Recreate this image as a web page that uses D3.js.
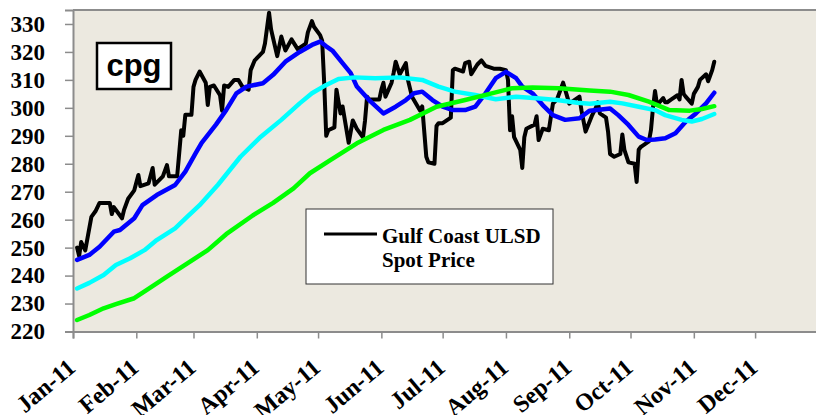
<!DOCTYPE html>
<html>
<head>
<meta charset="utf-8">
<script src="https://cdn.jsdelivr.net/npm/d3@7"></script>
<style>
  html, body { margin: 0; padding: 0; background: #fff; }
  svg { display: block; }
</style>
</head>
<body>
<svg id="chart" width="816" height="415"></svg>
<script>
// Gulf Coast ULSD spot price (cents/gal) and its moving averages, 2011

var priceDates = [
  '2011-01-03','2011-01-04','2011-01-05','2011-01-07','2011-01-10','2011-01-12','2011-01-14','2011-01-19',
  '2011-01-20','2011-01-21','2011-01-25','2011-01-26','2011-01-28','2011-01-31','2011-02-02','2011-02-03',
  '2011-02-07','2011-02-09','2011-02-10','2011-02-14','2011-02-16','2011-02-17','2011-02-21','2011-02-23',
  '2011-02-24','2011-02-25','2011-02-28','2011-03-01','2011-03-02','2011-03-04','2011-03-07','2011-03-08',
  '2011-03-09','2011-03-11','2011-03-14','2011-03-15','2011-03-16','2011-03-18','2011-03-21','2011-03-23',
  '2011-03-25','2011-03-28','2011-03-29','2011-03-31','2011-04-04','2011-04-05','2011-04-07','2011-04-08',
  '2011-04-11','2011-04-13','2011-04-15','2011-04-18','2011-04-21','2011-04-25','2011-04-26','2011-04-28',
  '2011-04-29','2011-05-02','2011-05-03','2011-05-04','2011-05-05','2011-05-06','2011-05-09','2011-05-10',
  '2011-05-12','2011-05-13','2011-05-16','2011-05-18','2011-05-20','2011-05-23','2011-05-24','2011-05-25',
  '2011-05-26','2011-05-31','2011-06-01','2011-06-02','2011-06-03','2011-06-06','2011-06-07','2011-06-08',
  '2011-06-10','2011-06-13','2011-06-14','2011-06-16','2011-06-20','2011-06-21','2011-06-23','2011-06-24',
  '2011-06-27','2011-06-28','2011-06-29','2011-07-01','2011-07-05','2011-07-06','2011-07-07','2011-07-11',
  '2011-07-12','2011-07-14','2011-07-15','2011-07-18','2011-07-20','2011-07-22','2011-07-26','2011-07-29',
  '2011-08-01','2011-08-02','2011-08-03','2011-08-04','2011-08-05','2011-08-08','2011-08-09','2011-08-10',
  '2011-08-11','2011-08-15','2011-08-16','2011-08-17','2011-08-19','2011-08-22','2011-08-24','2011-08-26',
  '2011-08-29','2011-08-30','2011-09-01','2011-09-06','2011-09-07','2011-09-09','2011-09-12','2011-09-14',
  '2011-09-15','2011-09-16','2011-09-19','2011-09-20','2011-09-21','2011-09-23','2011-09-26','2011-09-27',
  '2011-09-28','2011-09-30','2011-10-03','2011-10-04','2011-10-05','2011-10-06','2011-10-07','2011-10-10',
  '2011-10-11','2011-10-12','2011-10-13','2011-10-14','2011-10-17','2011-10-18','2011-10-19','2011-10-21',
  '2011-10-24','2011-10-25','2011-10-26','2011-10-27','2011-10-28','2011-10-31','2011-11-01','2011-11-03',
  '2011-11-04','2011-11-07','2011-11-08','2011-11-10','2011-11-11'
];
var priceValues = [
  250, 247, 252, 249, 261, 263, 266, 266,
  262, 264.5, 260.5, 263.5, 267.5, 270.5, 276, 272,
  273, 278.5, 272.5, 275.5, 279.5, 275.5, 275.5, 292,
  290, 297.5, 297.5, 307.5, 310, 313, 309, 301,
  307.5, 308, 304.5, 299, 308, 307.5, 310, 310,
  307.5, 306.5, 313.5, 317, 320, 323, 334, 328,
  318.5, 325.5, 320.5, 324.5, 321, 323, 327, 331,
  329, 326, 324, 309, 290, 292, 293, 306.5,
  298, 300.5, 287.5, 295.5, 292.5, 289.5, 295.5, 304,
  303, 303, 306.5, 309, 304, 309, 312.5, 316.5,
  312, 316, 310, 304, 299, 300.5, 282.5, 280.5,
  280, 293.5, 294.5, 294.5, 296.5, 313.5, 314, 313,
  316, 316.5, 312, 315.5, 317, 315, 314, 314,
  313.5, 310, 292, 297, 289.5, 285, 278.5, 289.5,
  292.5, 294, 297, 288.5, 292.5, 292, 301.5, 303,
  309, 306.5, 301.5, 304, 299, 291.5, 297, 300,
  302, 298, 296.5, 291.5, 283.5, 282.5, 283.5, 290.5,
  285, 280.5, 280, 273.5, 285, 286, 286.5, 288,
  292, 300, 306, 301, 303.5, 302, 302, 303,
  304.5, 303, 310, 305, 304, 301.5, 305, 307.5,
  310, 312, 309.5, 313.5, 316.5
];

// short moving average (blue)
var maShortDates = [
  '2011-01-03','2011-01-09','2011-01-14','2011-01-21','2011-01-24','2011-01-31','2011-02-04','2011-02-11',
  '2011-02-20','2011-02-25','2011-03-02','2011-03-05','2011-03-12','2011-03-17','2011-03-22','2011-03-27',
  '2011-04-04','2011-04-09','2011-04-15','2011-04-22','2011-04-28','2011-05-02','2011-05-05','2011-05-08',
  '2011-05-13','2011-05-17','2011-05-20','2011-05-26','2011-06-02','2011-06-08','2011-06-13','2011-06-17',
  '2011-06-21','2011-06-26','2011-07-01','2011-07-06','2011-07-12','2011-07-17','2011-07-22','2011-07-27',
  '2011-08-01','2011-08-06','2011-08-09','2011-08-14','2011-08-19','2011-08-24','2011-08-30','2011-09-06',
  '2011-09-11','2011-09-21','2011-09-25','2011-09-30','2011-10-05','2011-10-09','2011-10-13','2011-10-18',
  '2011-10-23','2011-10-28','2011-11-02','2011-11-07','2011-11-11'
];
var maShortValues = [
  245.6, 247.4, 250.3, 255.7, 256.3, 260.5, 265.2, 268.8,
  272.4, 277.2, 283.7, 287.5, 294, 299.2, 305.2, 307.6,
  308.8, 311.8, 316.5, 320, 322.5, 323.7, 322, 320.5,
  316, 312.4, 307.6, 302.8, 298, 300.4, 302.8, 305.2,
  305.8, 302.8, 300.4, 299.2, 299.2, 300.4, 305.2, 310.6,
  312.9, 310.6, 307.6, 305.2, 301, 297.4, 295.7, 296.3,
  299, 299.8, 297.4, 293.9, 289.7, 288.5, 288.7, 289.1,
  290.9, 295, 298, 301.6, 305.4
];

// medium moving average (cyan)
var maMidDates = [
  '2011-01-03','2011-01-09','2011-01-16','2011-01-22','2011-01-29','2011-02-05','2011-02-11','2011-02-20',
  '2011-02-26','2011-03-04','2011-03-13','2011-03-24','2011-04-03','2011-04-13','2011-04-22','2011-04-28',
  '2011-05-05','2011-05-11','2011-05-19','2011-05-29','2011-06-10','2011-06-21','2011-06-29','2011-07-07',
  '2011-07-17','2011-07-27','2011-08-06','2011-08-16','2011-08-26','2011-09-05','2011-09-11','2011-09-21',
  '2011-09-27','2011-10-05','2011-10-13','2011-10-18','2011-10-26','2011-10-31','2011-11-05','2011-11-11'
];
var maMidValues = [
  235.4, 237.4, 240.2, 243.8, 246.2, 249.1, 252.7, 256.9,
  261.1, 265.2, 272.5, 282.5, 289.7, 295.7, 301.6, 305.2,
  308.2, 310.3, 310.9, 310.6, 310.9, 310, 307.6, 305.8,
  304.6, 303.1, 304, 303.4, 302.8, 301.8, 301.5, 302.2,
  301.6, 300.4, 299.2, 297.4, 295.7, 295.1, 296, 297.8
];

// long moving average (green)
var maLongDates = [
  '2011-01-03','2011-01-09','2011-01-16','2011-01-22','2011-01-31','2011-02-06','2011-02-16','2011-02-26',
  '2011-03-08','2011-03-17','2011-03-30','2011-04-09','2011-04-19','2011-04-27','2011-05-07','2011-05-20',
  '2011-06-02','2011-06-15','2011-06-28','2011-07-12','2011-07-25','2011-08-04','2011-08-14','2011-08-27',
  '2011-09-11','2011-09-21','2011-09-30','2011-10-10','2011-10-20','2011-10-30','2011-11-05','2011-11-11'
];
var maLongValues = [
  224.1, 225.9, 228.3, 229.8, 231.9, 234.8, 239.6, 244.4,
  249.1, 254.8, 261.5, 266, 271.2, 276.6, 281.3, 287.3,
  292.1, 295.7, 300.4, 302.8, 305.2, 307, 307.3, 307,
  306.2, 305.8, 304.6, 302.2, 299.2, 299, 299.6, 300.6
];

var yTicks = [220, 230, 240, 250, 260, 270, 280, 290, 300, 310, 320, 330];
var monthLabels = ['Jan-11','Feb-11','Mar-11','Apr-11','May-11','Jun-11',
                   'Jul-11','Aug-11','Sep-11','Oct-11','Nov-11','Dec-11'];
var boxLabel = 'cpg';
var legendLines = ['Gulf Coast ULSD', 'Spot Price'];

(function(d3) {
    'use strict';

    var parse = d3.timeParse('%Y-%m-%d');
    var svg = d3.select('#chart');

    var left = 73, top = 10, right = 818.4, bottom = 331.5;

    var x = d3.scaleTime()
        .domain([new Date(2011, 0, 1), new Date(2012, 0, 1)])
        .range([left, right]);
    var y = d3.scaleLinear()
        .domain([220, 335])
        .range([bottom, top]);

    var axisColor = '#8c8c8c';
    var serif = '"Liberation Serif", "Times New Roman", serif';

    // plot background
    svg.append('rect')
        .attr('x', left).attr('y', top)
        .attr('width', right - left).attr('height', bottom - top)
        .attr('fill', '#ece9e0');

    svg.append('line')
        .attr('x1', left).attr('x2', right)
        .attr('y1', top).attr('y2', top)
        .attr('stroke', axisColor).attr('stroke-width', 2);

    // y axis
    var yAxis = svg.append('g')
        .attr('transform', 'translate(' + left + ',0)')
        .call(d3.axisLeft(y).tickValues(yTicks).tickSize(8).tickPadding(20).tickFormat(d3.format('d')));
    yAxis.select('.domain').attr('stroke', axisColor).attr('stroke-width', 2);
    yAxis.selectAll('.tick line').attr('stroke', axisColor).attr('stroke-width', 1.5);
    yAxis.selectAll('.tick text')
        .attr('fill', '#000')
        .style('font-family', serif)
        .style('font-weight', 'bold')
        .style('font-size', '23px');

    // x axis
    var months = monthLabels.map(function(d, i) { return new Date(2011, i, 1); });
    var xAxis = svg.append('g')
        .attr('transform', 'translate(0,' + bottom + ')')
        .call(d3.axisBottom(x).tickValues(months).tickSize(7).tickFormat(''));
    xAxis.select('.domain').attr('stroke', axisColor).attr('stroke-width', 2);
    xAxis.selectAll('.tick line').attr('stroke', axisColor).attr('stroke-width', 1.5);

    // rotated month labels; the lowest ones run past the bottom edge as in the original
    svg.append('g')
        .selectAll('text')
        .data(months)
        .enter()
        .append('text')
        .attr('transform', function(d) {
            return 'translate(' + (x(d) + 4) + ',370) rotate(-40)';
        })
        .attr('text-anchor', 'end')
        .style('font-family', serif)
        .style('font-weight', 'bold')
        .style('font-size', '24px')
        .text(function(d, i) { return monthLabels[i]; });

    // series
    var line = d3.line()
        .x(function(d) { return x(d[0]); })
        .y(function(d) { return y(d[1]); });

    var zip = function(dates, values) {
        return dates.map(function(d, i) { return [parse(d), values[i]]; });
    };

    var series = [
        { cls: 'price', data: zip(priceDates, priceValues), color: '#000000', width: 4 },
        { cls: 'ma-short', data: zip(maShortDates, maShortValues), color: '#0000ff', width: 4.5 },
        { cls: 'ma-mid', data: zip(maMidDates, maMidValues), color: '#00ffff', width: 4.5 },
        { cls: 'ma-long', data: zip(maLongDates, maLongValues), color: '#00ff00', width: 4.5 }
    ];

    svg.append('g')
        .selectAll('path')
        .data(series)
        .enter()
        .append('path')
        .attr('class', function(d) { return d.cls; })
        .attr('d', function(d) { return line(d.data); })
        .attr('fill', 'none')
        .attr('stroke', function(d) { return d.color; })
        .attr('stroke-width', function(d) { return d.width; })
        .attr('stroke-linejoin', 'round')
        .attr('stroke-linecap', 'round');

    // "cpg" box
    svg.append('rect')
        .attr('x', 97).attr('y', 43)
        .attr('width', 74).attr('height', 46)
        .attr('fill', '#fff')
        .attr('stroke', '#000').attr('stroke-width', 2.5);
    svg.append('text')
        .attr('x', 134).attr('y', 76)
        .attr('text-anchor', 'middle')
        .style('font-family', '"Liberation Sans", Arial, sans-serif')
        .style('font-weight', 'bold')
        .style('font-size', '31px')
        .text(boxLabel);

    // legend
    var legend = svg.append('g');
    legend.append('rect')
        .attr('x', 306).attr('y', 209)
        .attr('width', 247).attr('height', 75)
        .attr('fill', '#fff')
        .attr('stroke', '#333').attr('stroke-width', 1);
    legend.append('line')
        .attr('x1', 324).attr('x2', 377)
        .attr('y1', 234).attr('y2', 234)
        .attr('stroke', '#000').attr('stroke-width', 3);
    legend.selectAll('text')
        .data(legendLines)
        .enter()
        .append('text')
        .attr('x', 382)
        .attr('y', function(d, i) { return 243 + i * 24; })
        .style('font-family', serif)
        .style('font-weight', 'bold')
        .style('font-size', '21px')
        .text(function(d) { return d; });

}(window.d3));
</script>
</body>
</html>
